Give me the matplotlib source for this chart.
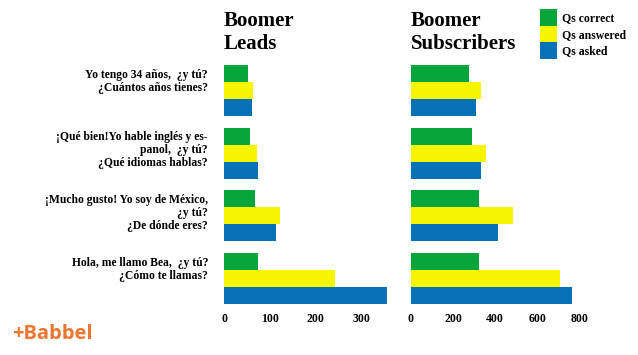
import matplotlib
matplotlib.use("Agg")
import matplotlib.pyplot as plt
import numpy as np
from matplotlib.transforms import blended_transform_factory

categories = [
    "Yo tengo 34 años,  ¿y tú?\n¿Cuántos años tienes?",
    "¡Qué bien!Yo hable inglés y es-\npanol,  ¿y tú?\n¿Qué idiomas hablas?",
    "¡Mucho gusto! Yo soy de México,\n¿y tú?\n¿De dónde eres?",
    "Hola, me llamo Bea,  ¿y tú?\n¿Cómo te llamas?",
]
series = ["Qs correct", "Qs answered", "Qs asked"]
leads_correct = [52, 57, 68, 75]
leads_answered = [63, 72, 122, 243]
leads_asked = [62, 75, 113, 356]
subs_correct = [275, 292, 324, 324]
subs_answered = [332, 354, 482, 709]
subs_asked = [311, 332, 411, 766]
leads_ticks = [0, 100, 200, 300]
subs_ticks = [0, 200, 400, 600, 800]
titles = ["Boomer\nLeads", "Boomer\nSubscribers"]

colors = ["#07A53A", "#F8F500", "#0870B5"]
serif = ["Liberation Serif", "DejaVu Serif"]

W, H = 638, 355
fig = plt.figure(figsize=(W / 100, H / 100), dpi=100)

def px_axes(x0, x1, y0, y1):
    return fig.add_axes([x0 / W, 1 - y1 / H, (x1 - x0) / W, (y1 - y0) / H])

bh = 0.27
half = 1.5 * bh
ax1 = px_axes(224, 398, 65, 304)
ax2 = px_axes(411, 590, 65, 304)

y = np.arange(len(categories))
for ax, data, xmax, ticks, title in [
    (ax1, [leads_correct, leads_answered, leads_asked], 380, leads_ticks, titles[0]),
    (ax2, [subs_correct, subs_answered, subs_asked], 850, subs_ticks, titles[1]),
]:
    for k, (vals, c, lab) in enumerate(zip(data, colors, series)):
        ax.barh(y - bh + k * bh, vals, height=bh, color=c, label=lab, linewidth=0)
    ax.set_xlim(0, xmax)
    ax.set_ylim(len(categories) - 1 + half, -half)
    ax.set_xticks(ticks)
    ax.set_xticklabels([str(t) for t in ticks], fontfamily=serif,
                       fontweight="bold", fontsize=8.5)
    ax.tick_params(axis="x", length=0, pad=6.5)
    ax.set_yticks([])
    for s in ax.spines.values():
        s.set_visible(False)
    ax.text(0, 1 + 11 / 239, title, transform=ax.transAxes, ha="left", va="bottom",
            fontfamily=serif, fontweight="bold", fontsize=15, linespacing=1.2)

tr = blended_transform_factory(ax1.transAxes, ax1.transData)
for i, lab in enumerate(categories):
    ax1.text(-16 / 174, i - half + 0.06, lab, transform=tr, ha="right", va="top",
             multialignment="right", fontfamily=serif, fontweight="bold",
             fontsize=8.4, linespacing=1.1)

handles, labels = ax2.get_legend_handles_labels()
leg = fig.legend(handles, labels, loc="upper left",
                 bbox_to_anchor=(540 / W, 1 - 9 / H),
                 frameon=False, prop={"family": serif, "weight": "bold", "size": 8.5},
                 handlelength=1.42, handleheight=1.8, handletextpad=0.45,
                 labelspacing=0.0, borderpad=0, borderaxespad=0)

fig.text(12 / W, 1 - 339 / H, "+Babbel", color="#EA7630", fontsize=14.5,
         fontfamily=["Open Sans", "DejaVu Sans"], fontweight="bold",
         ha="left", va="baseline")

fig.savefig("out.png", dpi=100)
